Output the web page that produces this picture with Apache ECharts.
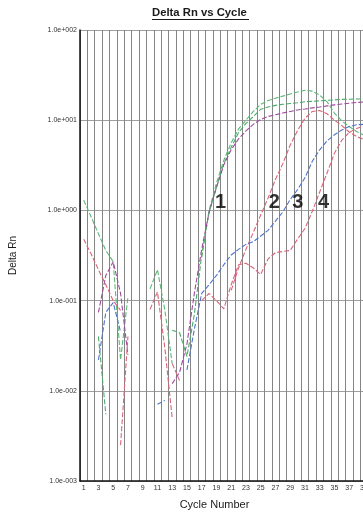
<!DOCTYPE html>
<html><head><meta charset="utf-8">
<script src="https://cdn.jsdelivr.net/npm/echarts@6/dist/echarts.min.js"></script>
<style>html,body{margin:0;padding:0;background:#fff;overflow:hidden;width:363px;height:515px}#c{width:375px;height:515px}</style>
</head><body><div id="c"></div>
<script>
const cycles = [1,2,3,4,5,6,7,8,9,10,11,12,13,14,15,16,17,18,19,20,21,22,23,24,25,26,27,28,29,30,31,32,33,34,35,36,37,38,39,40];
const yTicks = [0.001, 0.01, 0.1, 1, 10, 100];
const _ = null;
// Delta Rn per cycle (null = negative / not plotted on log scale)
const greenA = [1.3,0.85,0.55,0.36,0.27,0.022,0.11,_,_,0.135,0.22,0.079,0.02,_,_,_,0.3,1.0,2.0,3.6,5.6,8.0,10,12.5,15,16.5,17.5,18.5,19.5,20.5,21.5,21,19,16,12,9.8,8.5,7.5,6.8,6.3];
const greenB = [_,_,0.04,0.0055,_,_,_,_,_,_,_,_,0.047,0.044,0.024,0.07,0.32,0.95,1.8,3.3,5.0,7.3,9.2,11,13.2,14,14.6,15,15.3,15.6,16,16.2,16.4,16.6,16.8,17,17.1,17.2,17.2,17.2];
const purple = [_,_,0.074,0.19,0.27,0.12,0.025,_,_,_,_,_,0.012,0.016,0.033,0.12,0.37,0.95,1.8,3.2,4.7,6.2,7.6,9.0,10.2,11,11.5,12,12.5,13,13.3,13.7,14,14.4,14.8,15.1,15.4,15.7,15.9,16];
const redD = [0.48,0.33,0.22,0.15,0.10,0.078,_,_,_,0.08,0.125,0.03,0.005,_,_,_,_,_,_,_,0.13,0.23,0.37,0.57,0.89,1.37,2.2,3.3,5.3,7.7,10.5,12.5,12.8,11.8,10,8.7,7.4,6.6,6.1,5.8];
const blue = [_,_,0.022,0.074,0.095,0.045,_,_,_,_,0.0071,0.0078,_,_,0.017,0.048,0.12,0.15,0.19,0.25,0.32,0.37,0.42,0.45,0.52,0.6,0.76,0.96,1.32,1.7,2.3,3.5,4.7,5.9,6.9,7.8,8.5,8.9,9.0,9.1];
const redF = [_,_,_,_,_,0.0025,0.04,_,_,_,_,_,0.02,0.013,_,_,0.1,0.12,0.1,0.081,0.15,0.25,0.26,0.23,0.195,0.29,0.34,0.35,0.36,0.48,0.63,0.98,1.6,2.6,4.3,6.0,7.3,8.1,8.6,8.8];
const annoLabels = ['1','2','3','4'];
const annoCycles = [19.55, 26.85, 30.03, 33.54];
const annoValues = [1.22, 1.22, 1.22, 1.22];

const colors = {greenA:'#5fb878', greenB:'#4caa6a', purple:'#a04a9e', redD:'#d96478', blue:'#4f74c8', redF:'#d8677c'};
function fmtExp(v){const e=Math.round(Math.log10(v));return '1.0e'+(e<0?'-':'+')+String(Math.abs(e)).padStart(3,'0');}
function mk(name,data,color){return {name,type:'line',data,showSymbol:false,connectNulls:false,animation:false,
  lineStyle:{color,width:1.1,type:[5,2]},itemStyle:{color}};}

const chart = echarts.init(document.getElementById('c'));
chart.setOption({
  animation:false,
  textStyle:{fontFamily:'Liberation Sans, Arial, sans-serif'},
  grid:{left:79,top:30,right:0,bottom:33},
  graphic:[
    {type:'text',left:152,top:7,style:{text:'Delta Rn vs Cycle',font:'bold 11.3px Liberation Sans, Arial, sans-serif',fill:'#1a1a1a'}},
    {type:'line',shape:{x1:152,y1:19.5,x2:249,y2:19.5},style:{stroke:'#1a1a1a',lineWidth:1}}
  ],
  xAxis:[{type:'category',data:cycles.map(String),boundaryGap:true,
    axisLine:{lineStyle:{color:'#111',width:1.5}},axisTick:{show:false},
    axisLabel:{interval:1,fontSize:7,color:'#333',margin:4},
    splitLine:{show:true,interval:0,lineStyle:{color:'#858585',width:1}},
    name:'Cycle Number',nameLocation:'middle',nameGap:18,
    nameTextStyle:{fontSize:11,color:'#1a1a1a',padding:[0,26,0,0]}},
   {type:'value',min:0.5,max:40.5,show:false}],
  yAxis:{type:'log',logBase:10,min:yTicks[0],max:yTicks[yTicks.length-1],
    axisLine:{show:true,lineStyle:{color:'#111',width:1.5}},axisTick:{show:false},
    axisLabel:{fontSize:7,color:'#333',margin:3,formatter:fmtExp},
    splitLine:{show:true,lineStyle:{color:'#a0a0a0',width:1}},minorSplitLine:{show:false},
    name:'Delta Rn',nameLocation:'middle',nameGap:62,nameRotate:90,
    nameTextStyle:{fontSize:10,color:'#1a1a1a'}},
  series:[
    mk('greenA',greenA,colors.greenA),
    mk('greenB',greenB,colors.greenB),
    mk('purple',purple,colors.purple),
    mk('redD',redD,colors.redD),
    mk('blue',blue,colors.blue),
    mk('redF',redF,colors.redF),
    {type:'scatter',xAxisIndex:1,symbolSize:1,itemStyle:{color:'rgba(0,0,0,0)'},
     data:annoCycles.map((c,i)=>({value:[c,annoValues[i]],name:annoLabels[i]})),
     label:{show:true,position:'inside',formatter:p=>p.name,fontSize:20,fontWeight:'bold',color:'#000'}}
  ]
});
</script></body></html>
